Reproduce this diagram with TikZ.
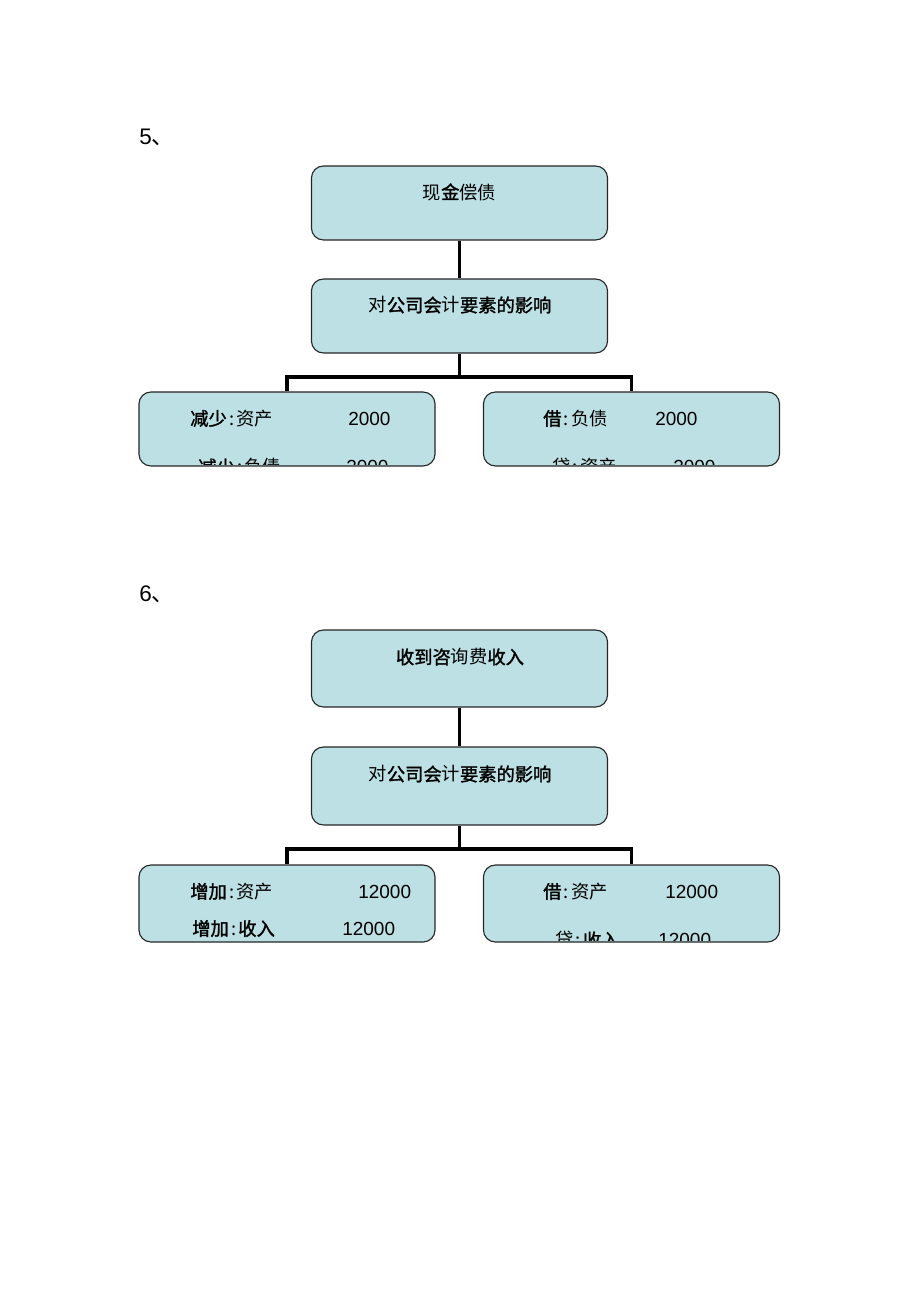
\documentclass[tikz,border=0pt]{standalone}
\usepackage{fontspec}
\setmainfont{Liberation Sans}
\newfontfamily\cjk[AutoFakeBold=1.5]{Noto Sans CJK SC}
\usepackage{xcolor}
\definecolor{boxfill}{HTML}{BCE0E3}
\newcommand{\sep}{\hspace{0.12em}:\hspace{0.12em}}

\begin{document}
\begin{tikzpicture}[x=0.025cm, y=-0.025cm,
   box_style/.style={draw=black!85, line width=0.8pt, fill=boxfill, rounded corners=0.3cm,
     minimum width=7.4cm, minimum height=1.85cm, inner sep=0pt},
   edge_style/.style={draw=black, line width=2.8pt},
   cjk_style/.style={font=\cjk\fontsize{13}{15}\selectfont, inner sep=0pt},
   row_style/.style={cjk_style, anchor=west},
   num_style/.style={font=\fontsize{13.5}{15}\selectfont, inner sep=0pt, anchor=west},
   head_style/.style={font=\fontsize{16}{18}\selectfont, inner sep=0pt, anchor=west}]
	\useasboundingbox (0,0) rectangle (920,1302);

	% --- 5
	\node [head_style] (no5) at (139,137) {5{\cjk 、}};
	\node [box_style] (top5) at (459.5,203) {};
	\node [box_style] (mid5) at (459.5,316) {};
	\node [box_style] (left5) at (287,429) {};
	\node [box_style] (right5) at (631.5,429) {};
	\coordinate (bar5) at (459.5,377);

	\node [cjk_style] (top5txt) at (459.5,192) {现\textbf{金}偿债};
	\node [cjk_style] (mid5txt) at (460,305) {对\textbf{公司会}计\textbf{要素的影响}};
	\node [row_style] (l5a) at (190,418.5) {\textbf{减少}\sep 资产};
	\node [num_style] (l5an) at (348,418.5) {2000};
	\node [row_style] (r5a) at (543,418.5) {\textbf{借}\sep 负债};
	\node [num_style] (r5an) at (655,418.5) {2000};
	\begin{scope}
		\clip ([yshift=0.04cm]left5.south west) rectangle (left5.north east);
		\node [row_style] (l5b) at (198,467) {\textbf{减少}\sep 负债};
		\node [num_style] (l5bn) at (346,467) {2000};
	\end{scope}
	\begin{scope}
		\clip ([yshift=0.04cm]right5.south west) rectangle (right5.north east);
		\node [row_style] (r5b) at (552,467) {贷\sep 资产};
		\node [num_style] (r5bn) at (673,467) {2000};
	\end{scope}

	% --- 6
	\node [head_style] (no6) at (139,594) {6{\cjk 、}};
	\node [box_style, minimum height=1.925cm] (top6) at (459.5,668.5) {};
	\node [box_style, minimum height=1.95cm] (mid6) at (459.5,786) {};
	\node [box_style, minimum height=1.925cm] (left6) at (287,903.5) {};
	\node [box_style, minimum height=1.925cm] (right6) at (631.5,903.5) {};
	\coordinate (bar6) at (459.5,849);

	\node [cjk_style] (top6txt) at (460,657) {\textbf{收到咨}询费\textbf{收入}};
	\node [cjk_style] (mid6txt) at (460,774) {对\textbf{公司会}计\textbf{要素的影响}};
	\node [row_style] (l6a) at (190,891.5) {\textbf{增加}\sep 资产};
	\node [num_style] (l6an) at (358,891.5) {12000};
	\node [row_style] (l6b) at (192,928.5) {\textbf{增加}\sep\textbf{收入}};
	\node [num_style] (l6bn) at (342,928.5) {12000};
	\node [row_style] (r6a) at (543,891.5) {\textbf{借}\sep 资产};
	\node [num_style] (r6an) at (665,891.5) {12000};
	\begin{scope}
		\clip ([yshift=0.04cm]right6.south west) rectangle (right6.north east);
		\node [row_style] (r6b) at (555,940) {贷\sep\textbf{收入}};
		\node [num_style] (r6bn) at (658,940) {12000};
	\end{scope}

	\foreach \from/\to in {top5/mid5, mid5/bar5, top6/mid6, mid6/bar6}
	  \draw [edge_style] (\from) -- (\to);
	\draw [edge_style] (left5.north) |- (bar5) -| (right5.north);
	\draw [edge_style] (left6.north) |- (bar6) -| (right6.north);

\end{tikzpicture}
\end{document}
